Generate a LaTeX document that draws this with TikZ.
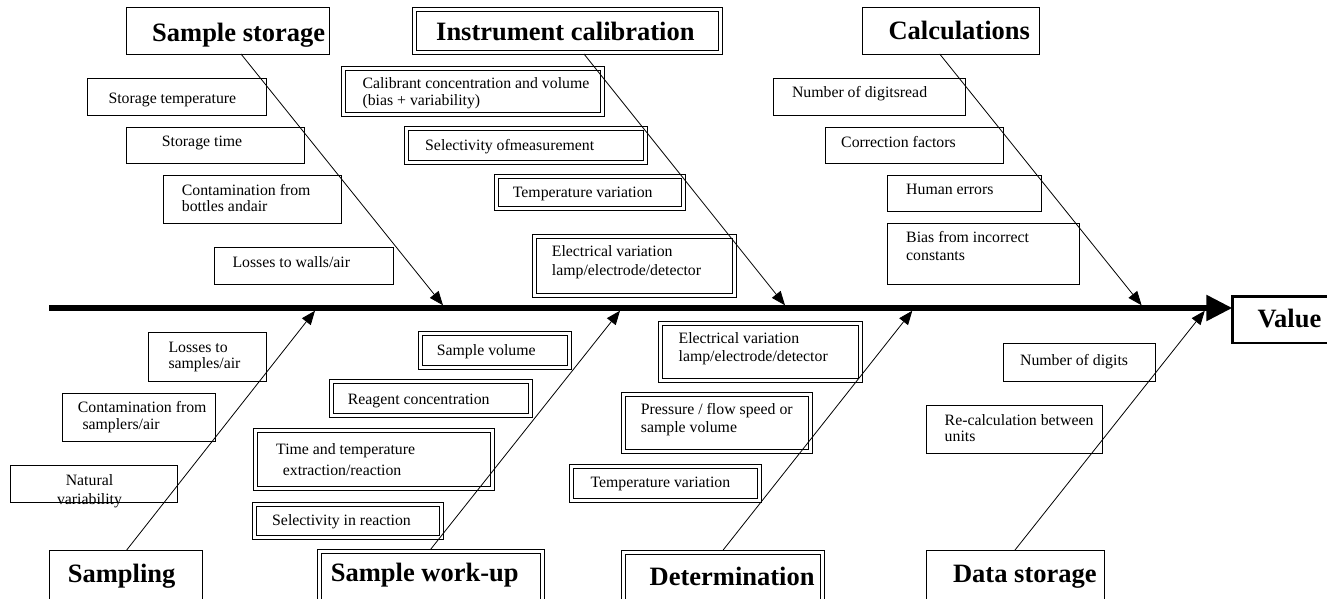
\documentclass[tikz,border=0pt]{standalone}
\usepackage{fontspec}
\setmainfont{Liberation Serif}
\usetikzlibrary{arrows.meta}
\begin{document}
\begin{tikzpicture}[x=1pt,y=-1pt,
  box/.style={draw, line width=0.9pt, inner sep=0pt, outer sep=0pt, anchor=north west},
  dbox/.style={box},
  inner line/.style={line width=0.9pt},
  vbox/.style={box, line width=2.6pt},
  head/.style={font=\fontsize{26.5}{30}\selectfont\bfseries, anchor=base west, inner sep=0pt},
  lbl/.style={font=\fontsize{15.8}{#1}\selectfont, anchor=base west, inner sep=0pt, align=left},
  lbl/.default=17,
  branch/.style={line width=0.8pt, -{Triangle[length=14pt,width=11pt]}},
  spine/.style={line width=5.5pt, -{Triangle[length=26pt,width=25pt]}}
]
\fill[white] (0,0) rectangle (1327,599);
\useasboundingbox (0,0) rectangle (1327,599);

% ---------- category boxes ----------
\node[box,  minimum width=203pt,   minimum height=47pt]   (ss)    at (126,7) {};
\node[dbox, minimum width=310pt,   minimum height=47pt]   (ic)    at (412.7,7) {};
\node[box,  minimum width=177pt,   minimum height=47pt]   (calc)  at (862,7) {};
\node[box,  minimum width=153pt,   minimum height=62pt]   (samp)  at (49,550) {};
\node[dbox, minimum width=227.3pt, minimum height=62pt]   (wu)    at (317,549.3) {};
\node[dbox, minimum width=203.1pt, minimum height=62pt]   (det)   at (621.6,550) {};
\node[box,  minimum width=178pt,   minimum height=62pt]   (dstor) at (926,550) {};
\node[vbox, minimum width=110pt,   minimum height=46.5pt] (val)   at (1232.3,296.3) {};

\node[head] (ss-t)    at (152,41.7)    {Sample storage};
\node[head] (ic-t)    at (436,40.7)    {Instrument calibration};
\node[head] (calc-t)  at (888.4,39.3)  {Calculations};
\node[head] (samp-t)  at (67.7,582.7)  {Sampling};
\node[head] (wu-t)    at (330.7,581.7) {Sample work-up};
\node[head] (det-t)   at (649.5,585)   {Determination};
\node[head] (dstor-t) at (952.9,582.7) {Data storage};
\node[head] (val-t)   at (1257.3,327.3){Value};

% ---------- spine ----------
\coordinate (s0) at (49,308);
\draw[spine] (s0) -- (s0 -| val.west);

% ---------- branches ----------
\coordinate (t1) at (443,305.3);
\coordinate (t2) at (785,305.3);
\coordinate (t3) at (1141.6,305.3);
\coordinate (b1) at (315,310.7);
\coordinate (b2) at (620,310.7);
\coordinate (b3) at (912.3,310.7);
\coordinate (b4) at (1204.8,310.7);
\draw[branch] ([xshift=13.5pt]ss.south) -- (t1);
\draw[branch] ([xshift=16.3pt]ic.south) -- (t2);
\draw[branch] ([xshift=-10.8pt]calc.south) -- (t3);
\draw[branch] ([xshift=1.2pt]samp.north) -- (b1);
\draw[branch] (wu.north) -- (b2);
\draw[branch] (det.north) -- (b3);
\draw[branch] (dstor.north) -- (b4);

% ---------- Sample storage causes ----------
\node[box, minimum width=179pt, minimum height=37pt] (st1) at (87,78) {};
\node[box, minimum width=178pt, minimum height=36pt] (st2) at (126,127) {};
\node[box, minimum width=178pt, minimum height=48pt] (st3) at (163,175) {};
\node[box, minimum width=179pt, minimum height=37pt] (st4) at (214,247) {};
\node[lbl] (st1-t) at (108.3,103.5) {Storage temperature};
\node[lbl] (st2-t) at (161.7,146.7) {Storage time};
\node[lbl=16.7] (st3-t) at (181.7,211.7) {Contamination from\\bottles andair};
\node[lbl] (st4-t) at (232.3,267.7) {Losses to walls/air};

% ---------- Instrument calibration causes ----------
\node[dbox, minimum width=263.3pt, minimum height=49.6pt] (ic1) at (341,66.7) {};
\node[dbox, minimum width=242.3pt, minimum height=37.3pt] (ic2) at (404.7,126.7) {};
\node[dbox, minimum width=191.3pt, minimum height=36pt]   (ic3) at (494,174.7) {};
\node[dbox, minimum width=204pt,   minimum height=62.7pt] (ic4) at (532.3,234.3) {};
\node[lbl=17.3] (ic1-t) at (362.3,106) {Calibrant concentration and volume\\(bias + variability)};
\node[lbl] (ic2-t) at (425,150) {Selectivity ofmeasurement};
\node[lbl] (ic3-t) at (512.7,197.3) {Temperature variation};
\node[lbl=19] (ic4-t) at (551.7,275.7) {Electrical variation\\lamp/electrode/detector};

% ---------- Calculations causes ----------
\node[box, minimum width=192pt, minimum height=37pt] (ca1) at (773,78) {};
\node[box, minimum width=178pt, minimum height=36pt] (ca2) at (825,127) {};
\node[box, minimum width=154pt, minimum height=36pt] (ca3) at (887,175) {};
\node[box, minimum width=192pt, minimum height=61pt] (ca4) at (887,223) {};
\node[lbl] (ca1-t) at (791.8,97.7) {Number of digitsread};
\node[lbl] (ca2-t) at (841,147) {Correction factors};
\node[lbl] (ca3-t) at (906,194.7) {Human errors};
\node[lbl=18] (ca4-t) at (906,260.7) {Bias from incorrect\\constants};

% ---------- Sampling causes ----------
\node[box, minimum width=118pt, minimum height=49pt] (sa1) at (148,332) {};
\node[box, minimum width=153pt, minimum height=48pt] (sa2) at (62,393) {};
\node[box, minimum width=167pt, minimum height=37pt] (sa3) at (10,465) {};
\node[lbl=16.7] (sa1-t) at (168.3,368.7) {Losses to\\samples/air};
\node[lbl=17.3] (sa2-t) at (77.7,429.3) {Contamination from\\\hspace*{4.6pt}samplers/air};
\node[lbl=19.7, align=center, anchor=base] (sa3-t) at (89.5,504.7) {Natural\\variability};

% ---------- Sample work-up causes ----------
\node[dbox, minimum width=153pt,   minimum height=37.3pt] (wu1) at (418.3,331.7) {};
\node[dbox, minimum width=203.7pt, minimum height=37.7pt] (wu2) at (329,379.3) {};
\node[dbox, minimum width=241pt,   minimum height=61.3pt] (wu3) at (253.3,428.7) {};
\node[dbox, minimum width=191.3pt, minimum height=37pt]   (wu4) at (252,502) {};
\node[lbl] (wu1-t) at (436.7,355) {Sample volume};
\node[lbl] (wu2-t) at (347.7,404) {Reagent concentration};
\node[lbl=21.7] (wu3-t) at (276,475.7) {Time and temperature\\\hspace*{6.7pt}extraction/reaction};
\node[lbl] (wu4-t) at (272,525) {Selectivity in reaction};

% ---------- Determination causes ----------
\node[dbox, minimum width=203.5pt, minimum height=60.7pt] (de1) at (658.8,321.3) {};
\node[dbox, minimum width=190.4pt, minimum height=60.3pt] (de2) at (621.6,392.7) {};
\node[dbox, minimum width=191.2pt, minimum height=37.7pt] (de3) at (569.8,464.3) {};
\node[lbl=17.7] (de1-t) at (678.4,361) {Electrical variation\\lamp/electrode/detector};
\node[lbl=18.7] (de2-t) at (640.7,432.7) {Pressure / flow speed or\\sample volume};
\node[lbl] (de3-t) at (590.3,487) {Temperature variation};

% ---------- Data storage causes ----------
\node[box, minimum width=152pt, minimum height=38pt] (dt1) at (1003,343) {};
\node[box, minimum width=176pt, minimum height=48pt] (dt2) at (926,405) {};
\node[lbl] (dt1-t) at (1019.9,365) {Number of digits};
\node[lbl=16.7] (dt2-t) at (944.5,441.7) {Re-calculation between\\units};

% ---------- inner lines of the double-framed boxes ----------
\foreach \n in {ic,wu,det,ic1,ic2,ic3,ic4,wu1,wu2,wu3,wu4,de1,de2,de3}
  \draw[inner line] ([shift={(4,4)}]\n.north west) rectangle ([shift={(-4,-4)}]\n.south east);
\end{tikzpicture}
\end{document}
